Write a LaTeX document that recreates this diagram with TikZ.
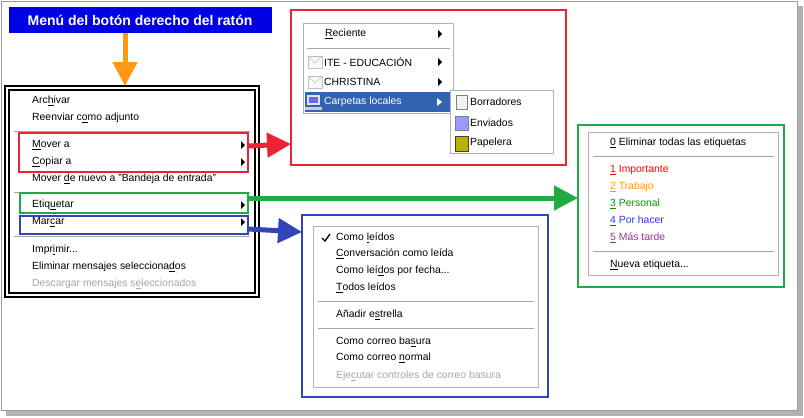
\documentclass[tikz,border=0pt]{standalone}
\usepackage{fontspec}
\setmainfont{Liberation Sans}
\usetikzlibrary{arrows.meta}
\definecolor{menug}{HTML}{A0A0A0}
\definecolor{hl}{HTML}{3163B0}
\definecolor{tred}{HTML}{FF0000}
\definecolor{torange}{HTML}{FF9900}
\definecolor{tgreen}{HTML}{009900}
\definecolor{tblue}{HTML}{3333FF}
\definecolor{tpurple}{HTML}{993399}
\definecolor{bred}{HTML}{EE2233}
\definecolor{bgreen}{HTML}{22AA44}
\definecolor{bblue}{HTML}{3344BB}
\definecolor{aorange}{HTML}{FF9911}
\newcommand{\ak}[1]{\underline{#1}}
\tikzset{
 itm/.style={anchor=west,inner sep=0pt,font=\fontsize{10.4}{11}\selectfont},
 dis/.style={itm,text=gray!70},
 menu/.style={draw=gray!60,fill=white,line width=1pt},
 sep/.style={draw=gray!70,line width=1pt},
 big/.style={line width=6pt,-{Triangle[length=24pt,width=24pt]}},
}
\newcommand{\subtri}[2]{\fill (#1-3,#2-4) -- (#1+1,#2) -- (#1-3,#2+4) -- cycle;}
\begin{document}
\begin{tikzpicture}[x=1pt,y=-1pt]
\useasboundingbox (0,0) rectangle (804,418);
\fill[white] (0,0) rectangle (804,418);
% frame and shadow
\fill[gray!60] (798,6) rectangle (803,416);
\fill[gray!60] (6,411) rectangle (803,416);
\draw[gray!80,line width=1pt] (1,1) rectangle (797,410);
% title
\node[fill=blue!90!black,text=white,font=\bfseries\fontsize{14}{15}\selectfont,minimum width=263pt,minimum height=26pt,inner sep=0pt] (title) at (140,20) {Menú del botón derecho del ratón};
% main menu
\draw[line width=1.2pt] (5,86) rectangle (259,297);
\draw[line width=1.2pt] (9,90) rectangle (255,293);
\coordinate (mtop) at (125,86);
\draw[aorange,big,line width=5pt] (title.south -| mtop) -- (mtop);
\node[itm] (a1) at (32,101) {Arc\ak{h}ivar};
\node[itm] (a2) at (32,118) {Reenviar c\ak{o}mo adjunto};
\draw[sep] (14,131) -- (250,131);
\node[itm] (a3) at (32,145) {\ak{M}over a};
\node[itm] (a4) at (32,162) {\ak{C}opiar a};
\node[itm] (a5) at (32,179) {Mover \ak{d}e nuevo a "Bandeja de entrada"};
\draw[sep] (14,192) -- (250,192);
\node[itm] (a6) at (32,205) {Etiq\ak{u}etar};
\node[itm] (a7) at (32,222) {Mar\ak{c}ar};
\draw[sep] (14,236) -- (250,236);
\node[itm] (a8) at (32,250) {Impr\ak{i}mir...};
\node[itm] (a9) at (32,267) {Eliminar mensajes selecciona\ak{d}os};
\node[dis] (a10) at (32,284) {Descargar mensajes s\ak{e}leccionados};
\subtri{244}{145}\subtri{244}{162}\subtri{244}{205}\subtri{244}{222}
% highlight boxes
\draw[bred,line width=1.5pt] (19,133) rectangle (248,172);
\draw[bgreen,line width=1.5pt] (20,193) rectangle (248,213);
\draw[bblue,line width=1.5pt] (20,216) rectangle (248,234);
\coordinate (rs) at (248,146); \coordinate (gs) at (248,198); \coordinate (bs) at (248,229);
% red target
\draw[bred,line width=1.5pt] (291,10) rectangle (566,165);
\coordinate (rt) at (291,144);
\draw[bred,big,line width=5pt] (rs) -- (rt);
\draw[menu] (303,23) rectangle (453,113);
\node[itm] (r1) at (325,34) {\ak{R}eciente};
\draw[sep] (307,48) -- (450,48);
\draw[gray!50,fill=gray!5] (308,56) rectangle (322,68);
\draw[gray!50] (308,56) -- (315,63) -- (322,56);
\node[itm] (r2) at (324,62) {ITE - EDUCACIÓN};
\draw[gray!50,fill=gray!5] (308,76) rectangle (322,88);
\draw[gray!50] (308,76) -- (315,83) -- (322,76);
\node[itm] (r3) at (324,82) {CHRISTINA};
\fill[hl] (305,92) rectangle (451,112);
\fill[gray!20] (307,95) rectangle (320,105); \fill[blue!60] (309,97) rectangle (318,103);
\fill[gray!40] (305,107) rectangle (322,110);
\node[itm,text=white] (r4) at (324,102) {Carpetas locales};
\subtri{441}{34}\subtri{441}{62}\subtri{441}{82}
\fill[white] (437,98) -- (442,102) -- (437,106) -- cycle;
\draw[menu] (450,90) rectangle (553,153);
\draw[gray,fill=gray!10] (456,95) rectangle (467,109);
\node[itm] (s1) at (470,102) {Borradores};
\draw[gray,fill=blue!40] (455,116) rectangle (468,130);
\node[itm] (s2) at (470,123) {Enviados};
\draw[gray!50!black,fill=olive!60!yellow] (455,136) rectangle (468,151);
\node[itm] (s3) at (470,143) {Papelera};
% green target
\draw[bgreen,line width=1.5pt] (578,125) rectangle (784,287);
\coordinate (gt) at (578,198);
\draw[bgreen,big,line width=5pt] (gs) -- (gt);
\draw[menu] (588,132) rectangle (778,275);
\node[itm] (g0) at (610,143) {\ak{0} Eliminar todas las etiquetas};
\draw[sep] (593,156) -- (774,156);
\node[itm,text=tred] (g1) at (610,170) {\ak{1} Importante};
\node[itm,text=torange] (g2) at (610,187) {\ak{2} Trabajo};
\node[itm,text=tgreen] (g3) at (610,204) {\ak{3} Personal};
\node[itm,text=tblue] (g4) at (610,221) {\ak{4} Por hacer};
\node[itm,text=tpurple] (g5) at (610,238) {\ak{5} Más tarde};
\draw[sep] (593,251) -- (774,251);
\node[itm] (g6) at (610,265) {\ak{N}ueva etiqueta...};
% blue target
\draw[bblue,line width=1.5pt] (302,215) rectangle (548,397);
\coordinate (bt) at (302,232);
\draw[bblue,big,line width=5pt] (bs) -- (bt);
\draw[menu] (313,226) rectangle (538,387);
\draw[line width=1.3pt] (322,238) -- (325,241) -- (330,234);
\node[itm] (b1) at (336,238) {Como \ak{l}eídos};
\node[itm] (b2) at (336,254) {\ak{C}onversación como leída};
\node[itm] (b3) at (336,271) {Como leí\ak{d}os por fecha...};
\node[itm] (b4) at (336,288) {\ak{T}odos leídos};
\draw[sep] (318,301) -- (534,301);
\node[itm] (b5) at (336,315) {Añadir e\ak{s}trella};
\draw[sep] (318,328) -- (534,328);
\node[itm] (b6) at (336,342) {Como correo ba\ak{s}ura};
\node[itm] (b7) at (336,358) {Como correo \ak{n}ormal};
\node[dis] (b8) at (336,376) {Eje\ak{c}utar controles de correo basura};
\end{tikzpicture}
\end{document}
